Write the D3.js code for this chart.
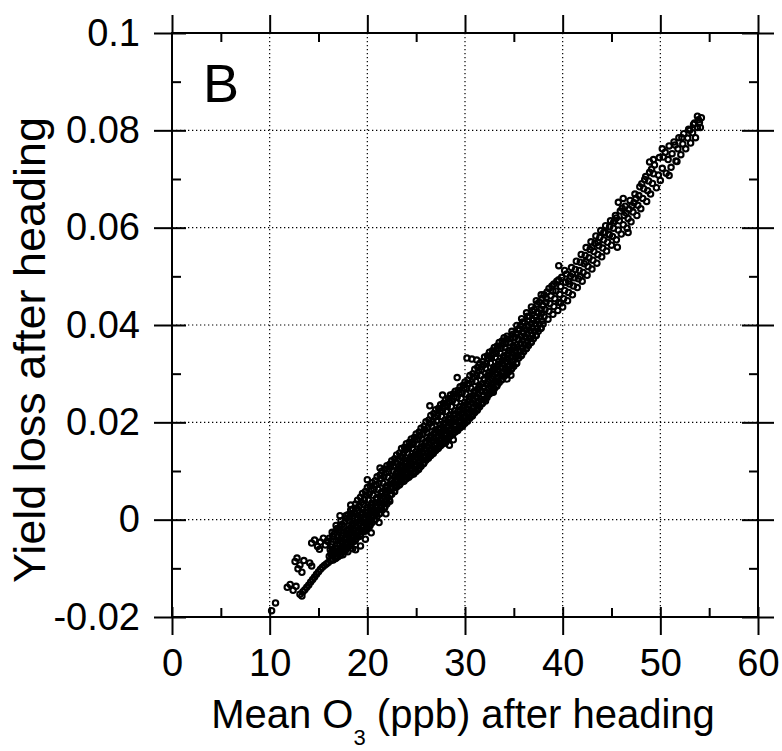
<!DOCTYPE html>
<html>
<head>
<meta charset="utf-8">
<script src="https://cdn.jsdelivr.net/npm/d3@7"></script>
<style>
  body { margin: 0; background: #fff; }
  svg text { font-family: "Liberation Sans", Arial, Helvetica, sans-serif; fill: #000; }
</style>
</head>
<body>
<div id="chart"></div>
<script>
// axis ticks and labels
const xTicks = [0, 10, 20, 30, 40, 50, 60];
const xMinorTicks = [5, 15, 25, 35, 45, 55];
const yTicks = [-0.02, 0, 0.02, 0.04, 0.06, 0.08, 0.1];
const yMinorTicks = [-0.01, 0.01, 0.03, 0.05, 0.07, 0.09];
const panelLabel = "B";
const xTitle = ["Mean O", "3", " (ppb) after heading"];
const yTitle = "Yield loss after heading";

// [mean O3 (ppb), yield loss]
const lowTail = [
  [10.2,-.0187],[10.6,-.0171],
  [11.8,-.0139],[12.1,-.0133],[12.4,-.0145],[12.7,-.0137],[13.1,-.0153],[13.3,-.0157],
  [12.6,-.0086],[12.8,-.0079],[13.1,-.0093],[12.9,-.0101],[13.3,-.0108],[13.5,-.0084],[14.1,-.0089],[14.3,-.0095],
  [13.4,-.0148],[13.6,-.0144],[13.8,-.0139],[14.0,-.0134],[14.2,-.0128],[14.4,-.0123],[14.6,-.0118],[14.8,-.0112],
  [15.0,-.0107],[15.2,-.0102],[15.4,-.0098],[15.6,-.0094],[15.8,-.0091],
  [14.3,-.0048],[14.6,-.0042],[14.9,-.0055],[15.2,-.0046],[15.5,-.0038],[15.7,-.0052],[15.9,-.0044],[15.1,-.0061]
];

const core = [
  [16.0,-.0088],[16.1,-.0075],[16.2,-.0062],[16.3,-.0050],[16.1,-.0038],[16.4,-.0081],[16.3,-.0068],[16.0,-.0045],
  [16.5,-.0083],[16.6,-.0072],[16.7,-.0058],[16.8,-.0044],[16.6,-.0030],[16.9,-.0018],[16.5,-.0063],[16.8,-.0078],[16.7,-.0025],[16.9,-.0050],
  [17.0,-.0076],[17.1,-.0064],[17.2,-.0050],[17.3,-.0037],[17.1,-.0022],[17.4,-.0010],[17.0,-.0043],[17.3,-.0070],[17.4,-.0056],[17.2,-.0015],
  [17.5,-.0066],[17.6,-.0054],[17.7,-.0041],[17.8,-.0028],[17.6,-.0014],[17.9,.0003],[17.5,-.0033],[17.8,-.0060],[17.9,-.0047],[17.7,-.0005],
  [18.0,-.0056],[18.1,-.0043],[18.2,-.0030],[18.3,-.0016],[18.1,-.0002],[18.4,.0012],[18.0,-.0024],[18.3,-.0050],[18.4,-.0036],[18.2,.0006],[18.0,.0010],
  [18.5,-.0046],[18.6,-.0033],[18.7,-.0020],[18.8,-.0006],[18.6,.0008],[18.9,.0024],[18.5,-.0012],[18.8,-.0040],[18.9,-.0026],[18.7,.0016],[18.5,.0022],
  [19.0,-.0036],[19.1,-.0023],[19.2,-.0009],[19.3,.0005],[19.1,.0019],[19.4,.0036],[19.0,.0000],[19.3,-.0030],[19.4,-.0016],[19.2,.0028],[19.0,.0040],
  [19.5,-.0025],[19.6,-.0012],[19.7,.0002],[19.8,.0016],[19.6,.0031],[19.9,.0050],[19.5,.0010],[19.8,-.0020],[19.9,-.0005],[19.7,.0042],[19.5,.0054],
  [20.0,-.0016],[20.1,-.0003],[20.2,.0011],[20.3,.0025],[20.1,.0040],[20.4,.0062],[20.0,.0020],[20.3,-.0010],[20.4,.0005],[20.2,.0053],[20.0,.0066],
  [20.5,-.0006],[20.6,.0007],[20.7,.0021],[20.8,.0035],[20.6,.0050],[20.9,.0072],[20.5,.0030],[20.8,.0000],[20.9,.0015],[20.7,.0063],[20.5,.0076],
  [21.0,.0007],[21.1,.0020],[21.2,.0034],[21.3,.0048],[21.1,.0062],[21.4,.0084],[21.0,.0042],[21.3,.0013],[21.4,.0028],[21.2,.0075],[21.0,.0088],
  [21.5,.0020],[21.6,.0033],[21.7,.0047],[21.8,.0061],[21.6,.0075],[21.9,.0096],[21.5,.0054],[21.8,.0026],[21.9,.0040],[21.7,.0088],[21.5,.0100],
  [22.0,.0032],[22.1,.0045],[22.2,.0059],[22.3,.0073],[22.1,.0087],[22.4,.0108],[22.0,.0066],[22.3,.0038],[22.4,.0052],[22.2,.0099],[22.0,.0111],
  [22.5,.0052],[22.6,.0064],[22.7,.0076],[22.8,.0088],[22.6,.0100],[22.9,.0118],[22.5,.0082],[22.8,.0058],[22.9,.0070],[22.7,.0111],[22.5,.0121],
  [23.0,.0067],[23.1,.0079],[23.2,.0091],[23.3,.0103],[23.1,.0115],[23.4,.0130],[23.0,.0097],[23.3,.0072],[23.4,.0085],[23.2,.0124],[23.0,.0133],
  [23.5,.0077],[23.6,.0089],[23.7,.0102],[23.8,.0115],[23.6,.0128],[23.9,.0143],[23.5,.0108],[23.8,.0082],[23.9,.0096],[23.7,.0136],[23.5,.0146],
  [24.0,.0084],[24.1,.0097],[24.2,.0110],[24.3,.0123],[24.1,.0137],[24.4,.0153],[24.0,.0117],[24.3,.0090],[24.4,.0104],[24.2,.0146],[24.0,.0156],
  [24.5,.0092],[24.6,.0105],[24.7,.0119],[24.8,.0132],[24.6,.0146],[24.9,.0163],[24.5,.0126],[24.8,.0098],[24.9,.0112],[24.7,.0155],[24.5,.0166],
  [25.0,.0099],[25.1,.0113],[25.2,.0127],[25.3,.0141],[25.1,.0155],[25.4,.0173],[25.0,.0134],[25.3,.0106],[25.4,.0120],[25.2,.0164],[25.0,.0176],
  [25.5,.0110],[25.6,.0124],[25.7,.0138],[25.8,.0152],[25.6,.0166],[25.9,.0185],[25.5,.0145],[25.8,.0117],[25.9,.0131],[25.7,.0176],[25.5,.0188],
  [26.0,.0122],[26.1,.0136],[26.2,.0150],[26.3,.0164],[26.1,.0179],[26.4,.0198],[26.0,.0157],[26.3,.0129],[26.4,.0143],[26.2,.0189],[26.0,.0201],
  [26.5,.0132],[26.6,.0146],[26.7,.0161],[26.8,.0176],[26.6,.0191],[26.9,.0211],[26.5,.0168],[26.8,.0139],[26.9,.0154],[26.7,.0202],[26.5,.0214],
  [27.0,.0142],[27.1,.0157],[27.2,.0172],[27.3,.0187],[27.1,.0202],[27.4,.0223],[27.0,.0179],[27.3,.0149],[27.4,.0164],[27.2,.0214],[27.0,.0226],
  [27.5,.0152],[27.6,.0167],[27.7,.0182],[27.8,.0197],[27.6,.0212],[27.9,.0233],[27.5,.0189],[27.8,.0159],[27.9,.0174],[27.7,.0224],[27.5,.0236],
  [28.0,.0162],[28.1,.0177],[28.2,.0192],[28.3,.0207],[28.1,.0222],[28.4,.0243],[28.0,.0199],[28.3,.0169],[28.4,.0184],[28.2,.0234],[28.0,.0246],
  [28.5,.0172],[28.6,.0187],[28.7,.0202],[28.8,.0217],[28.6,.0232],[28.9,.0253],[28.5,.0209],[28.8,.0179],[28.9,.0194],[28.7,.0244],[28.5,.0256],
  [29.0,.0180],[29.1,.0195],[29.2,.0210],[29.3,.0225],[29.1,.0240],[29.4,.0261],[29.0,.0217],[29.3,.0187],[29.4,.0202],[29.2,.0252],[29.0,.0264],
  [29.5,.0189],[29.6,.0204],[29.7,.0219],[29.8,.0234],[29.6,.0249],[29.9,.0270],[29.5,.0226],[29.8,.0196],[29.9,.0211],[29.7,.0261],[29.5,.0273],
  [30.0,.0198],[30.1,.0213],[30.2,.0228],[30.3,.0243],[30.1,.0258],[30.4,.0280],[30.0,.0235],[30.3,.0205],[30.4,.0220],[30.2,.0270],[30.0,.0283],
  [30.5,.0209],[30.6,.0224],[30.7,.0240],[30.8,.0255],[30.6,.0270],[30.9,.0293],[30.5,.0247],[30.8,.0216],[30.9,.0232],[30.7,.0283],[30.5,.0296],
  [31.0,.0220],[31.1,.0236],[31.2,.0252],[31.3,.0268],[31.1,.0284],[31.4,.0306],[31.0,.0260],[31.3,.0228],[31.4,.0244],[31.2,.0296],[31.0,.0309],
  [31.5,.0232],[31.6,.0248],[31.7,.0264],[31.8,.0280],[31.6,.0296],[31.9,.0318],[31.5,.0272],[31.8,.0240],[31.9,.0256],[31.7,.0308],[31.5,.0321],
  [32.0,.0247],[32.1,.0263],[32.2,.0279],[32.3,.0295],[32.1,.0311],[32.4,.0331],[32.0,.0287],[32.3,.0255],[32.4,.0271],[32.2,.0321],[32.0,.0334],
  [32.5,.0258],[32.6,.0274],[32.7,.0290],[32.8,.0306],[32.6,.0322],[32.9,.0341],[32.5,.0298],[32.8,.0266],[32.9,.0282],[32.7,.0332],[32.5,.0344],
  [33.0,.0269],[33.1,.0285],[33.2,.0301],[33.3,.0317],[33.1,.0333],[33.4,.0351],[33.0,.0309],[33.3,.0277],[33.4,.0293],[33.2,.0342],[33.0,.0354],
  [33.5,.0282],[33.6,.0297],[33.7,.0312],[33.8,.0327],[33.6,.0342],[33.9,.0361],[33.5,.0320],[33.8,.0289],[33.9,.0304],[33.7,.0352],[33.5,.0364],
  [34.0,.0294],[34.1,.0309],[34.2,.0324],[34.3,.0339],[34.1,.0354],[34.4,.0371],[34.0,.0332],[34.3,.0301],[34.4,.0316],[34.2,.0362],[34.0,.0374],
  [34.5,.0304],[34.6,.0319],[34.7,.0334],[34.8,.0349],[34.6,.0364],[34.9,.0381],[34.5,.0342],[34.8,.0311],[34.9,.0326],[34.7,.0372],
  [35.0,.0315],[35.1,.0330],[35.2,.0345],[35.3,.0360],[35.1,.0375],[35.4,.0391],[35.0,.0353],[35.3,.0322],[35.4,.0337],[35.2,.0383],
  [35.5,.0332],[35.6,.0347],[35.7,.0362],[35.8,.0377],[35.6,.0392],[35.9,.0406],[35.5,.0370],[35.8,.0339],[35.9,.0354],[35.7,.0399],
  [36.0,.0345],[36.1,.0360],[36.2,.0375],[36.3,.0390],[36.1,.0405],[36.4,.0418],[36.0,.0383],[36.3,.0352],[36.4,.0367],
  [36.5,.0358],[36.6,.0373],[36.7,.0388],[36.8,.0403],[36.6,.0418],[36.9,.0430],[36.5,.0396],[36.8,.0365],[36.9,.0380],
  [37.0,.0372],[37.1,.0387],[37.2,.0402],[37.3,.0417],[37.1,.0432],[37.4,.0443],[37.0,.0410],[37.3,.0379],
  [37.5,.0387],[37.6,.0402],[37.7,.0417],[37.8,.0432],[37.6,.0447],[37.9,.0455],[37.5,.0425],[37.8,.0394],
  [38.0,.0402],[38.1,.0417],[38.2,.0432],[38.3,.0447],[38.1,.0462],[38.4,.0468],[38.0,.0440]
];

// points sitting between the columns above, where the scan is solid black
const coreFill = [
  [16.25,-.0084],[16.35,-.0056],[16.45,-.0034],[16.3,-.0072],[16.4,-.0026],
  [16.75,-.0080],[16.85,-.0066],[16.95,-.0036],[16.8,-.0012],[16.9,-.0060],
  [17.25,-.0073],[17.35,-.0045],[17.45,-.0028],[17.3,-.0002],[17.4,-.0062],
  [17.75,-.0064],[17.85,-.0036],[17.95,-.0020],[17.8,.0008],[17.9,-.0052],
  [18.25,-.0054],[18.35,-.0025],[18.45,-.0008],[18.3,.0020],[18.4,-.0042],
  [18.75,-.0044],[18.85,-.0013],[18.95,.0004],[18.8,.0032],[18.9,-.0032],
  [19.25,-.0034],[19.35,-.0002],[19.45,.0014],[19.3,.0046],[19.4,-.0022],
  [19.75,-.0024],[19.85,.0009],[19.95,.0025],[19.8,.0058],[19.9,-.0010],
  [20.25,-.0013],[20.35,.0018],[20.45,.0034],[20.3,.0069],[20.4,.0000],
  [20.75,.0000],[20.85,.0028],[20.95,.0045],[20.8,.0080],[20.9,.0012],
  [21.25,.0012],[21.35,.0041],[21.45,.0057],[21.3,.0092],[21.4,.0024],
  [21.75,.0025],[21.85,.0054],[21.95,.0069],[21.8,.0104],[21.9,.0037],
  [22.25,.0041],[22.35,.0066],[22.45,.0080],[22.3,.0114],[22.4,.0052],
  [22.75,.0058],[22.85,.0082],[22.95,.0094],[22.8,.0125],[22.9,.0068],
  [23.25,.0071],[23.35,.0097],[23.45,.0109],[23.3,.0137],[23.4,.0083],
  [23.75,.0079],[23.85,.0108],[23.95,.0121],[23.8,.0149],[23.9,.0092],
  [24.25,.0087],[24.35,.0117],[24.45,.0130],[24.3,.0159],[24.4,.0100],
  [24.75,.0094],[24.85,.0125],[24.95,.0139],[24.8,.0169],[24.9,.0108],
  [25.25,.0103],[25.35,.0134],[25.45,.0149],[25.3,.0180],[25.4,.0118],
  [25.75,.0115],[25.85,.0145],[25.95,.0160],[25.8,.0192],[25.9,.0130],
  [26.25,.0126],[26.35,.0157],[26.45,.0172],[26.3,.0205],[26.4,.0141],
  [26.75,.0136],[26.85,.0168],[26.95,.0184],[26.8,.0218],[26.9,.0152],
  [27.25,.0146],[27.35,.0179],[27.45,.0195],[27.3,.0229],[27.4,.0162],
  [27.75,.0156],[27.85,.0189],[27.95,.0205],[27.8,.0239],[27.9,.0172],
  [28.25,.0166],[28.35,.0199],[28.45,.0215],[28.3,.0249],[28.4,.0182],
  [28.75,.0175],[28.85,.0208],[28.95,.0224],[28.8,.0258],[28.9,.0191],
  [29.25,.0183],[29.35,.0216],[29.45,.0232],[29.3,.0266],[29.4,.0199],
  [29.75,.0192],[29.85,.0225],[29.95,.0241],[29.8,.0276],[29.9,.0208],
  [30.25,.0202],[30.35,.0235],[30.45,.0252],[30.3,.0287],[30.4,.0218],
  [30.75,.0213],[30.85,.0247],[30.95,.0264],[30.8,.0300],[30.9,.0230],
  [31.25,.0225],[31.35,.0259],[31.45,.0276],[31.3,.0313],[31.4,.0242],
  [31.75,.0238],[31.85,.0272],[31.95,.0289],[31.8,.0325],[31.9,.0255],
  [32.25,.0251],[32.35,.0285],[32.45,.0302],[32.3,.0337],[32.4,.0268],
  [32.75,.0262],[32.85,.0296],[32.95,.0313],[32.8,.0347],[32.9,.0279],
  [33.25,.0274],[33.35,.0308],[33.45,.0325],[33.3,.0357],[33.4,.0291],
  [33.75,.0287],[33.85,.0320],[33.95,.0336],[33.8,.0367],[33.9,.0303],
  [34.25,.0298],[34.35,.0331],[34.45,.0347],[34.3,.0377],[34.4,.0314],
  [34.75,.0309],[34.85,.0342],[34.95,.0358],[34.8,.0387],[34.9,.0325],
  [35.25,.0321],[35.35,.0354],[35.45,.0370],[35.3,.0399],[35.4,.0337],
  [35.75,.0337],[35.85,.0369],[35.95,.0385],[35.8,.0413],[35.9,.0352],
  [36.25,.0351],[36.35,.0382],[36.45,.0398],[36.3,.0425],[36.4,.0366],
  [36.75,.0364],[36.85,.0395],[36.95,.0411],[36.8,.0437],[36.9,.0379],
  [37.25,.0378],[37.35,.0409],[37.45,.0425],[37.3,.0450],[37.4,.0393],
  [37.75,.0393],[37.85,.0424],[37.95,.0440],[37.8,.0462],[37.9,.0408]
];

const upperRun = [
  [38.5,.0412],[38.6,.0428],[38.7,.0444],[38.8,.0460],[38.6,.0475],[38.9,.0480],
  [39.0,.0422],[39.1,.0438],[39.2,.0454],[39.3,.0470],[39.1,.0484],[39.4,.0490],
  [39.5,.0430],[39.6,.0447],[39.7,.0463],[39.8,.0479],[39.6,.0493],[39.9,.0498],
  [40.0,.0437],[40.1,.0454],[40.2,.0471],[40.3,.0488],[40.4,.0505],[40.2,.0512],
  [40.5,.0450],[40.6,.0467],[40.7,.0484],[40.8,.0500],[40.9,.0518],
  [41.0,.0462],[41.1,.0480],[41.2,.0497],[41.3,.0514],[41.4,.0531],
  [41.5,.0477],[41.6,.0495],[41.7,.0512],[41.8,.0529],[41.9,.0545],
  [42.0,.0490],[42.1,.0508],[42.2,.0526],[42.3,.0543],[42.4,.0559],
  [42.5,.0502],[42.6,.0520],[42.7,.0538],[42.8,.0555],[42.9,.0571],
  [43.0,.0515],[43.1,.0533],[43.2,.0551],[43.3,.0568],[43.4,.0583],
  [43.5,.0527],[43.6,.0545],[43.7,.0563],[43.8,.0580],[43.9,.0594],
  [44.0,.0540],[44.1,.0558],[44.2,.0575],[44.3,.0591],[44.4,.0604],
  [44.5,.0552],[44.6,.0570],[44.7,.0587],[44.8,.0602],[44.9,.0614],
  [45.0,.0564],[45.1,.0582],[45.2,.0599],[45.3,.0614],[45.4,.0625],
  [45.5,.0575],[45.7,.0595],[45.8,.0614],[45.9,.0634],
  [46.0,.0587],[46.2,.0606],[46.3,.0625],[46.4,.0644],
  [46.6,.0599],[46.7,.0619],[46.8,.0638],[46.9,.0656],
  [47.0,.0612],[47.2,.0632],[47.3,.0651],[47.4,.0669],
  [47.6,.0625],[47.7,.0646],[47.8,.0666],[47.9,.0684],
  [48.0,.0639],[48.2,.0660],[48.3,.0680],[48.4,.0699],
  [48.6,.0654],[48.7,.0676],[48.8,.0696],[48.9,.0714],
  [49.0,.0669],[49.2,.0691],[49.3,.0711],[49.4,.0729],
  [49.6,.0682],[49.8,.0708],[49.9,.0744],
  [50.0,.0697],[50.2,.0722],[50.3,.0745],[50.2,.0762],
  [50.6,.0712],[50.8,.0740],[50.9,.0768],
  [51.1,.0724],[51.2,.0752],[51.4,.0776],
  [51.6,.0737],[51.8,.0762],[51.9,.0785],
  [52.1,.0750],[52.3,.0772],[52.4,.0793],
  [52.6,.0762],[52.8,.0784],[52.9,.0802],
  [53.1,.0774],[53.3,.0795],[53.4,.0812],
  [53.6,.0785],[53.8,.0806],[53.9,.0822],[54.0,.0816],[53.8,.0829],[54.1,.0806],[54.2,.0826],
  [38.3,.0455],[39.0,.0470],[39.8,.0445],[40.6,.0490],[41.0,.0505],[41.8,.0500],[42.4,.0530],
  [43.0,.0560],[43.6,.0570],[44.2,.0590],[44.8,.0585],[45.2,.0610],[45.5,.0620],[46.1,.0640],
  [46.5,.0630],[47.1,.0645],[47.5,.0660],[48.1,.0690],[48.5,.0705],[49.1,.0720],[50.5,.0755],
  [51.5,.0770],[52.2,.0785],[53.0,.0800],[53.5,.0815]
];

const strays = [
  [39.6,.0522],[45.6,.0560],[46.7,.0590],[50.9,.0707],[51.7,.0736],[45.7,.0652],[46.2,.0660],[48.9,.0735],[49.3,.0740],
  [29.2,.0292],[30.2,.0332],[30.7,.0330],[31.2,.0328],[26.4,.0234],[27.7,.0256],
  [32.1,.0244],[32.9,.0262],[34.3,.0289],[34.7,.0297],
  [27.6,.0168],[28.0,.0158],[28.4,.0153],[28.8,.0164],[27.9,.0176],
  [16.9,-.0076],[17.5,-.0072],[18.0,-.0066],[18.5,-.0060],[18.8,-.0062],[19.3,-.0054],[19.8,-.0040],[20.4,-.0027],[21.2,-.0006],[21.9,.0012],
  [17.2,.0008],[18.3,.0030],[20.0,.0082],[21.3,.0106]
];

const points = [...lowTail, ...core, ...coreFill, ...upperRun, ...strays];

const width = 782, height = 751;
const plot = { left: 172, right: 758, top: 33, bottom: 617 };

const svg = d3.select("#chart")
  .append("svg")
  .attr("width", width)
  .attr("height", height);

const x = d3.scaleLinear().domain([0, 60]).range([plot.left, plot.right]);
const y = d3.scaleLinear().domain([-0.02, 0.1]).range([plot.bottom, plot.top]);

// dotted grid
const grid = svg.append("g")
  .attr("stroke", "#000")
  .attr("stroke-width", 1.2)
  .attr("stroke-dasharray", "1.3,2.7");
grid.selectAll(".gx")
  .data(xTicks.slice(1, -1))
  .join("line")
  .attr("x1", d => x(d)).attr("x2", d => x(d))
  .attr("y1", plot.top).attr("y2", plot.bottom);
grid.selectAll(".gy")
  .data(yTicks.slice(1, -1))
  .join("line")
  .attr("y1", d => y(d)).attr("y2", d => y(d))
  .attr("x1", plot.left).attr("x2", plot.right);

// scatter of open circles
svg.append("g")
  .selectAll("circle")
  .data(points)
  .join("circle")
  .attr("cx", d => x(d[0]))
  .attr("cy", d => y(d[1]))
  .attr("r", 2.7)
  .attr("fill", "none")
  .attr("stroke", "#000")
  .attr("stroke-width", 2.1);

// frame
svg.append("rect")
  .attr("x", plot.left).attr("y", plot.top)
  .attr("width", plot.right - plot.left)
  .attr("height", plot.bottom - plot.top)
  .attr("fill", "none")
  .attr("stroke", "#000")
  .attr("stroke-width", 2);

function styleAxis(g) {
  g.select(".domain").remove();
  g.selectAll(".tick line").attr("stroke", "#000").attr("stroke-width", 2);
  g.selectAll("text")
    .attr("font-family", '"Liberation Sans", Arial, sans-serif')
    .attr("font-size", 38)
    .attr("fill", "#000");
}

// major ticks cross the frame
svg.append("g")
  .attr("transform", `translate(0,${plot.bottom})`)
  .call(d3.axisBottom(x).tickValues(xTicks).tickSize(18).tickPadding(14).tickFormat(d => String(d)))
  .call(styleAxis)
  .call(g => g.selectAll(".tick line").attr("y1", -10));

svg.append("g")
  .attr("transform", `translate(${plot.left},0)`)
  .call(d3.axisLeft(y).tickValues(yTicks).tickSize(18).tickPadding(14).tickFormat(d => String(d)))
  .call(styleAxis)
  .call(g => g.selectAll(".tick line").attr("x1", 14));

svg.append("g")
  .attr("transform", `translate(0,${plot.top})`)
  .call(d3.axisTop(x).tickValues(xTicks).tickSize(18).tickFormat(""))
  .call(styleAxis)
  .call(g => g.selectAll(".tick line").attr("y1", 0));

svg.append("g")
  .attr("transform", `translate(${plot.right},0)`)
  .call(d3.axisRight(y).tickValues(yTicks).tickSize(16).tickFormat(""))
  .call(styleAxis)
  .call(g => g.selectAll(".tick line").attr("x1", -16));

// minor ticks, inward
svg.append("g")
  .attr("transform", `translate(0,${plot.bottom})`)
  .call(d3.axisBottom(x).tickValues(xMinorTicks).tickSize(-9).tickFormat(""))
  .call(styleAxis);
svg.append("g")
  .attr("transform", `translate(0,${plot.top})`)
  .call(d3.axisTop(x).tickValues(xMinorTicks).tickSize(-9).tickFormat(""))
  .call(styleAxis);
svg.append("g")
  .attr("transform", `translate(${plot.left},0)`)
  .call(d3.axisLeft(y).tickValues(yMinorTicks).tickSize(-9).tickFormat(""))
  .call(styleAxis);
svg.append("g")
  .attr("transform", `translate(${plot.right},0)`)
  .call(d3.axisRight(y).tickValues(yMinorTicks).tickSize(-9).tickFormat(""))
  .call(styleAxis);

// panel letter
svg.append("text")
  .attr("x", 203)
  .attr("y", 102)
  .attr("font-size", 54)
  .text(panelLabel);

// x title with subscript
const xt = svg.append("text")
  .attr("x", 463)
  .attr("y", 728)
  .attr("text-anchor", "middle")
  .attr("font-size", 40);
xt.append("tspan").text(xTitle[0]);
xt.append("tspan").attr("font-size", 22).attr("dy", 17).text(xTitle[1]);
xt.append("tspan").attr("dy", -17).text(xTitle[2]);

// y title
svg.append("text")
  .attr("transform", "translate(45,350) rotate(-90)")
  .attr("text-anchor", "middle")
  .attr("font-size", 45)
  .text(yTitle);
</script>
</body>
</html>
